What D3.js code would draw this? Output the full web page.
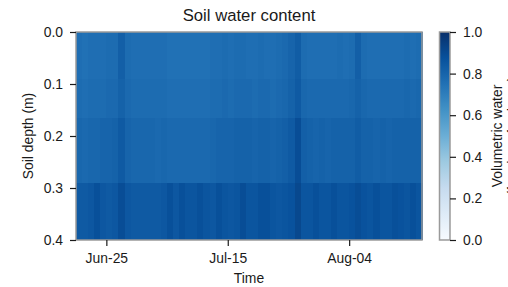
<!DOCTYPE html>
<html>
<head>
<meta charset="utf-8">
<script src="https://cdn.jsdelivr.net/npm/d3@7"></script>
<style>
  body { margin: 0; background: #fff; }
  text { font-family: "Liberation Sans", Arial, sans-serif; fill: #1a1a1a; }
</style>
</head>
<body>
<div class="soilChart"></div>
<script>

// first day of the record, one value per day per layer
var startDay = "2021-06-20";

// layer boundaries (m)
var depthEdges = [0, 0.09, 0.165, 0.29, 0.4];

// volumetric water content, daily, per layer (top to bottom)
var layer1 = [0.76,0.75,0.76,0.76,0.76,0.77,0.77,0.82,0.77,0.76,0.76,0.76,0.76,0.76,0.76,0.75,0.75,0.75,0.75,0.75,
              0.75,0.75,0.76,0.76,0.77,0.76,0.77,0.77,0.76,0.76,0.77,0.76,0.76,0.77,0.78,0.80,0.83,0.77,0.76,0.76,
              0.76,0.76,0.76,0.77,0.76,0.77,0.82,0.77,0.76,0.76,0.76,0.76,0.76,0.76,0.77,0.76,0.77];
var layer2 = [0.77,0.76,0.77,0.77,0.77,0.78,0.78,0.81,0.78,0.77,0.77,0.77,0.77,0.77,0.77,0.76,0.76,0.76,0.76,0.76,
              0.76,0.76,0.77,0.77,0.78,0.77,0.78,0.78,0.78,0.77,0.78,0.78,0.77,0.78,0.79,0.81,0.84,0.79,0.78,0.78,
              0.78,0.78,0.78,0.78,0.78,0.79,0.81,0.79,0.78,0.78,0.78,0.78,0.78,0.78,0.79,0.78,0.79];
var layer3 = [0.79,0.78,0.79,0.79,0.80,0.80,0.81,0.84,0.80,0.79,0.79,0.79,0.79,0.78,0.79,0.78,0.78,0.78,0.78,0.78,
              0.78,0.78,0.79,0.80,0.80,0.80,0.81,0.81,0.81,0.80,0.81,0.81,0.80,0.81,0.82,0.84,0.89,0.82,0.81,0.80,
              0.81,0.80,0.81,0.81,0.81,0.81,0.83,0.81,0.81,0.80,0.81,0.80,0.81,0.81,0.81,0.81,0.81];
var layer4 = [0.84,0.84,0.85,0.88,0.85,0.84,0.85,0.89,0.85,0.84,0.84,0.84,0.84,0.84,0.85,0.88,0.85,0.88,0.86,0.86,
              0.88,0.86,0.85,0.88,0.86,0.85,0.86,0.89,0.86,0.86,0.88,0.88,0.86,0.85,0.86,0.87,0.91,0.86,0.86,0.88,
              0.86,0.86,0.88,0.86,0.86,0.87,0.89,0.87,0.86,0.88,0.86,0.86,0.88,0.87,0.86,0.88,0.86];
var layers = [layer1, layer2, layer3, layer4];

var dateTicks = ["2021-06-25", "2021-07-15", "2021-08-04"];
var depthTicks = [0, 0.1, 0.2, 0.3, 0.4];
var cbarTicks = [0, 0.2, 0.4, 0.6, 0.8, 1.0];

// matplotlib "Blues"
var bluesColors = ["#f7fbff","#deebf7","#c6dbef","#9ecae1","#6baed6","#4292c6","#2171b5","#08519c","#08306b"];

var W = 508, H = 287;
var margin = {top: 32, right: 86, bottom: 47, left: 76},
    width = W - margin.left - margin.right,
    height = H - margin.top - margin.bottom;

var parse = d3.utcParse("%Y-%m-%d");
var t0 = parse(startDay);
var nDays = layer1.length;

var color = d3.scaleLinear()
  .domain(bluesColors.map(function(c, i) { return i / (bluesColors.length - 1); }))
  .range(bluesColors)
  .clamp(true);

var root = d3.select(".soilChart")
  .append("svg")
    .attr("width", W)
    .attr("height", H);

var svg = root.append("g")
    .attr("transform", "translate(" + margin.left + "," + margin.top + ")");

var x = d3.scaleUtc()
  .domain([t0, d3.utcDay.offset(t0, nDays)])
  .range([0, width]);

var y = d3.scaleLinear()
  .domain([0, 0.4])
  .range([0, height]);

// cells
var cells = [];
layers.forEach(function(vals, li) {
  vals.forEach(function(v, di) {
    cells.push({layer: li, day: di, v: v});
  });
});

svg.selectAll(".cell")
  .data(cells)
  .enter().append("rect")
    .attr("class", "cell")
    .attr("x", function(d) { return x(d3.utcDay.offset(t0, d.day)); })
    .attr("y", function(d) { return y(depthEdges[d.layer]); })
    .attr("width", function(d) { return x(d3.utcDay.offset(t0, d.day + 1)) - x(d3.utcDay.offset(t0, d.day)) + 0.5; })
    .attr("height", function(d) { return y(depthEdges[d.layer + 1]) - y(depthEdges[d.layer]); })
    .attr("fill", function(d) { return color(d.v); })
    .attr("shape-rendering", "crispEdges");

// frame
svg.append("rect")
  .attr("width", width)
  .attr("height", height)
  .attr("fill", "none")
  .attr("stroke", "#9a9a9a")
  .attr("stroke-width", 1.5);

// axes
var yAxis = svg.append("g")
  .call(d3.axisLeft(y).tickValues(depthTicks).tickFormat(d3.format(".1f")).tickSize(6).tickPadding(7));
var xAxis = svg.append("g")
  .attr("transform", "translate(0," + height + ")")
  .call(d3.axisBottom(x).tickValues(dateTicks.map(parse)).tickFormat(d3.utcFormat("%b-%d")).tickSize(6).tickPadding(7));

[yAxis, xAxis].forEach(function(a) {
  a.select(".domain").remove();
  a.selectAll("line").attr("stroke", "#1a1a1a").attr("stroke-width", 1.2);
  a.selectAll("text").attr("font-size", "13.9px").attr("fill", "#1a1a1a");
});

// labels
root.append("text")
  .attr("x", margin.left + width / 2)
  .attr("y", 21)
  .attr("text-anchor", "middle")
  .attr("font-size", "16.7px")
  .text("Soil water content");

root.append("text")
  .attr("x", margin.left + width / 2)
  .attr("y", 283)
  .attr("text-anchor", "middle")
  .attr("font-size", "13.9px")
  .text("Time");

root.append("text")
  .attr("transform", "translate(33," + (margin.top + height / 2) + ") rotate(-90)")
  .attr("text-anchor", "middle")
  .attr("font-size", "13.9px")
  .text("Soil depth (m)");

// colorbar
var cbX = 439.5, cbW = 10.5;
var cb = root.append("g").attr("transform", "translate(" + cbX + "," + margin.top + ")");
var cy = d3.scaleLinear().domain([0, 1]).range([height, 0]);

var grad = root.append("defs").append("linearGradient")
  .attr("id", "bluesGrad")
  .attr("x1", 0).attr("y1", 1).attr("x2", 0).attr("y2", 0);
grad.selectAll("stop")
  .data(bluesColors)
  .enter().append("stop")
    .attr("offset", function(d, i) { return i / (bluesColors.length - 1); })
    .attr("stop-color", function(d) { return d; });

cb.append("rect")
  .attr("width", cbW)
  .attr("height", height)
  .attr("fill", "url(#bluesGrad)")
  .attr("stroke", "#9a9a9a")
  .attr("stroke-width", 1.5);

var cAxis = cb.append("g")
  .attr("transform", "translate(" + cbW + ",0)")
  .call(d3.axisRight(cy).tickValues(cbarTicks).tickFormat(d3.format(".1f")).tickSize(6).tickPadding(7));
cAxis.select(".domain").remove();
cAxis.selectAll("line").attr("stroke", "#1a1a1a").attr("stroke-width", 1.2);
cAxis.selectAll("text").attr("font-size", "13.9px").attr("fill", "#1a1a1a");

// the reference figure crops this label at the right edge
var cbLabel = root.append("text")
  .attr("transform", "translate(502," + (margin.top + height / 2) + ") rotate(-90)")
  .attr("text-anchor", "middle")
  .attr("font-size", "13.9px");
cbLabel.append("tspan").attr("x", 0).attr("dy", 0).text("Volumetric water");
cbLabel.append("tspan").attr("x", 0).attr("dy", "1.15em").text("(fraction of volume)");

</script>
</body>
</html>
